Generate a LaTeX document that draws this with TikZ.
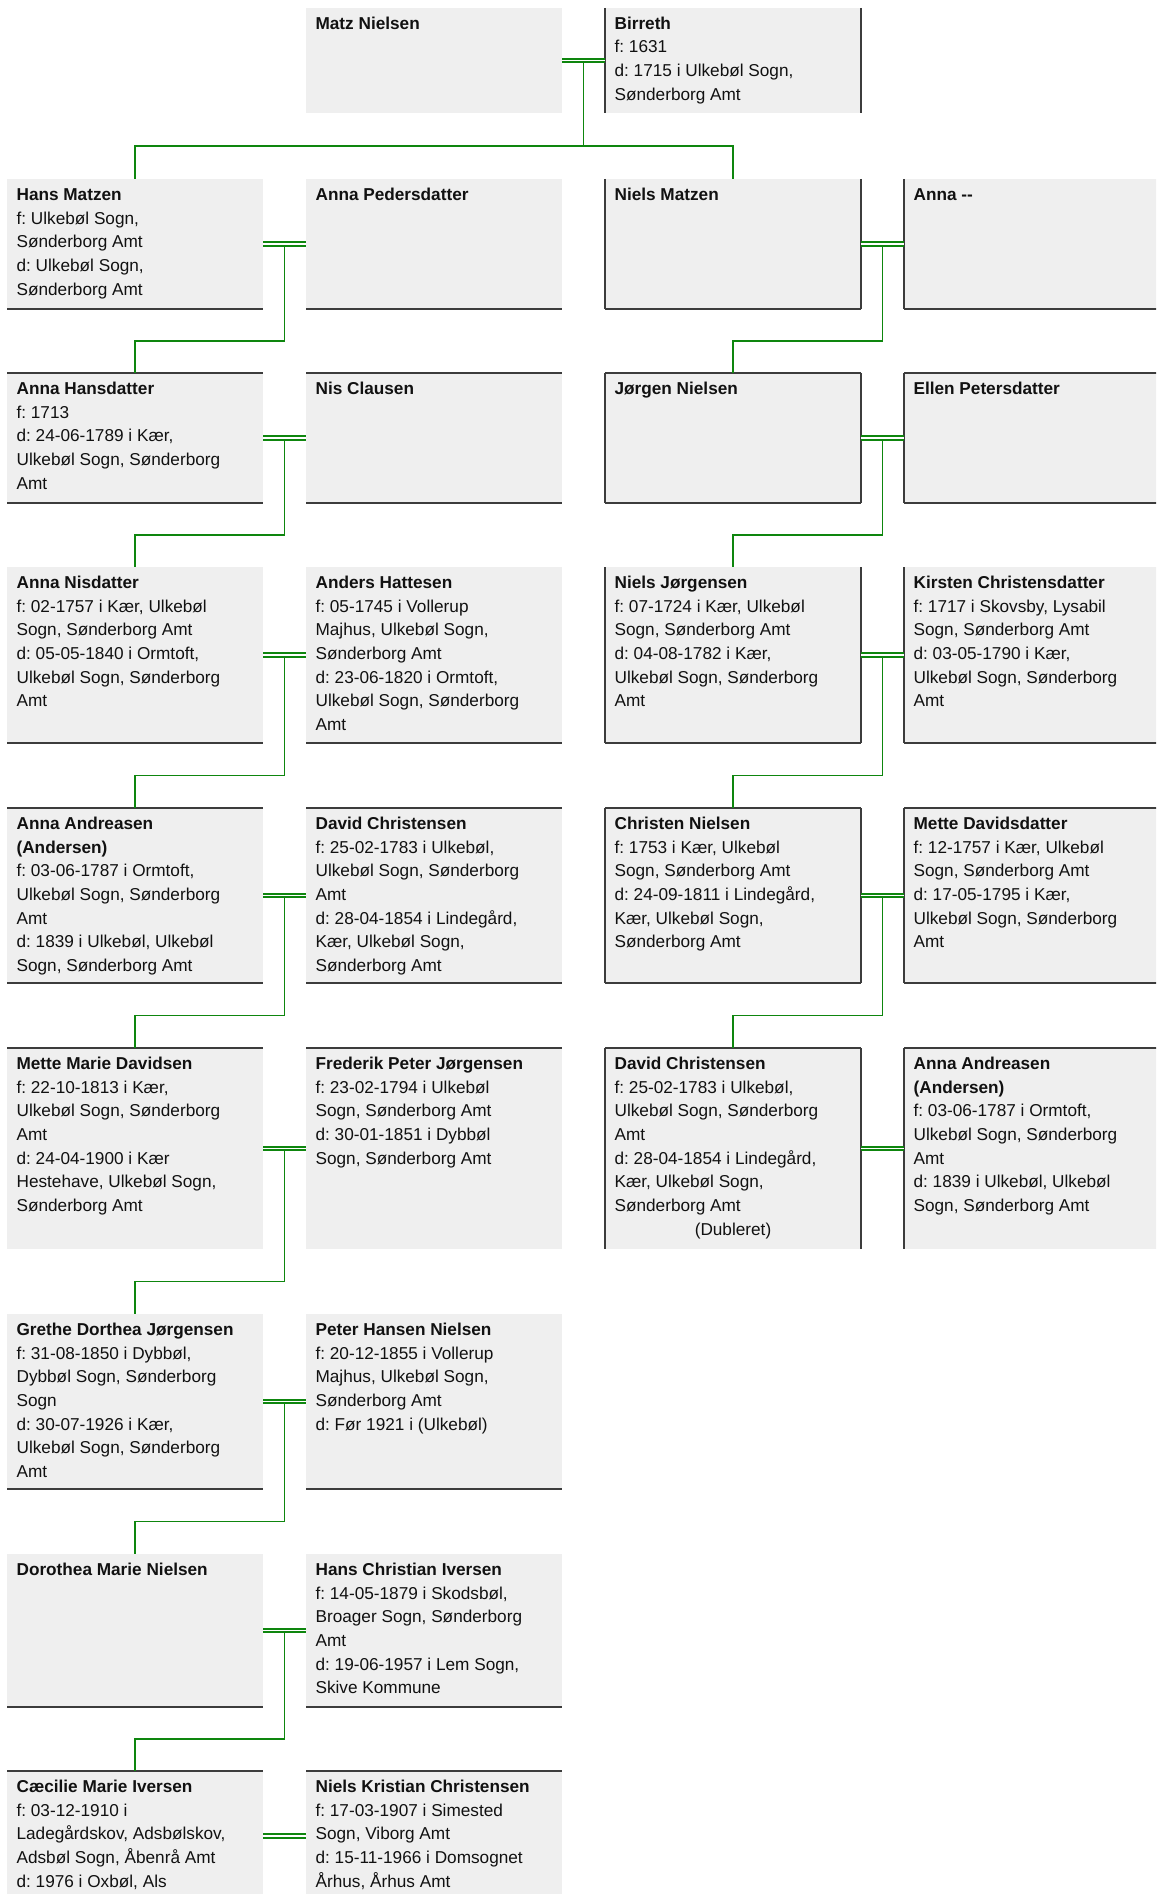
\documentclass[tikz,border=0pt]{standalone}
\usepackage{fontspec}
\setmainfont{Liberation Sans}
\usetikzlibrary{calc}
\definecolor{boxgray}{RGB}{239,239,239}
\definecolor{bordergray}{RGB}{60,60,60}
\definecolor{lgreen}{RGB}{14,134,14}
\definecolor{txt}{RGB}{17,17,17}
\newcommand\persfont{\fontsize{12.9pt}{17.8pt}\selectfont\frenchspacing}
\newcommand\fl{\rule{0pt}{15.75pt}}
\begin{document}
\begin{tikzpicture}[x=0.75pt,y=-0.75pt,
  pbox/.style={rectangle, fill=boxgray, draw=none, inner sep=0pt, outer sep=0pt, minimum width=192pt, anchor=north west},
  ptext/.style={anchor=north west, inner sep=0pt, align=left, font=\persfont, text=txt, xshift=7pt},
  bd/.style={draw=bordergray, line width=1.1pt},
  conn/.style={draw=lgreen, line width=1.4pt},
  couple/.style={draw=lgreen, line width=1.6pt, double=white, double distance=1.0pt},
]
\useasboundingbox (0,0) rectangle (1156,1894);
\clip (0,0) rectangle (1156,1894);

% ---------- boxes ----------
% row 0
\node[pbox, minimum height=78.75pt] (b0) at (306,8) {};
\node[pbox, minimum height=78.75pt] (c0) at (605,8) {};
% row 1
\node[pbox, minimum height=97.5pt] (a1) at (7,179) {};
\node[pbox, minimum height=97.5pt] (b1) at (306,179) {};
\node[pbox, minimum height=97.5pt] (c1) at (605,179) {};
\node[pbox, minimum height=97.5pt] (d1) at (904,179) {};
% row 2
\node[pbox, minimum height=97.5pt] (a2) at (7,373) {};
\node[pbox, minimum height=97.5pt] (b2) at (306,373) {};
\node[pbox, minimum height=97.5pt] (c2) at (605,373) {};
\node[pbox, minimum height=97.5pt] (d2) at (904,373) {};
% row 3
\node[pbox, minimum height=132pt] (a3) at (7,567) {};
\node[pbox, minimum height=132pt] (b3) at (306,567) {};
\node[pbox, minimum height=132pt] (c3) at (605,567) {};
\node[pbox, minimum height=132pt] (d3) at (904,567) {};
% row 4
\node[pbox, minimum height=131.25pt] (a4) at (7,808) {};
\node[pbox, minimum height=131.25pt] (b4) at (306,808) {};
\node[pbox, minimum height=131.25pt] (c4) at (605,808) {};
\node[pbox, minimum height=131.25pt] (d4) at (904,808) {};
% row 5
\node[pbox, minimum height=150.75pt] (a5) at (7,1048) {};
\node[pbox, minimum height=150.75pt] (b5) at (306,1048) {};
\node[pbox, minimum height=150.75pt] (c5) at (605,1048) {};
\node[pbox, minimum height=150.75pt] (d5) at (904,1048) {};
% row 6
\node[pbox, minimum height=131.25pt] (a6) at (7,1314) {};
\node[pbox, minimum height=131.25pt] (b6) at (306,1314) {};
% row 7
\node[pbox, minimum height=114.75pt] (a7) at (7,1554) {};
\node[pbox, minimum height=114.75pt] (b7) at (306,1554) {};
% row 8
\node[pbox, minimum height=97.5pt] (a8) at (7,1771) {};
\node[pbox, minimum height=97.5pt] (b8) at (306,1771) {};

% ---------- borders ----------
\foreach \n in {a1,b1,c1,d1,a2,b2,c2,d2,a3,b3,c3,d3,a4,b4,c4,d4,a6,b6,a7,b7}
  \draw[bd] (\n.south west) -- (\n.south east);
\foreach \n in {a2,b2,c2,d2,a4,b4,c4,d4,a5,b5,c5,d5,a8,b8}
  \draw[bd] (\n.north west) -- (\n.north east);
\foreach \n in {c0,c1,d1,c2,d2,c3,d3,c4,d4,c5,d5}
  \draw[bd] (\n.north west) -- (\n.south west);
\foreach \n in {c0,c1,c2,c3,c4,c5}
  \draw[bd] (\n.north east) -- (\n.south east);

% ---------- texts ----------
\node[ptext] (tb0) at (b0.north west) {\fl\textbf{Matz Nielsen}};
\node[ptext] (tc0) at (c0.north west) {\fl\textbf{Birreth}\\f: 1631\\d: 1715 i Ulkebøl Sogn,\\Sønderborg Amt};

\node[ptext] (ta1) at (a1.north west) {\fl\textbf{Hans Matzen}\\f: Ulkebøl Sogn,\\Sønderborg Amt\\d: Ulkebøl Sogn,\\Sønderborg Amt};
\node[ptext] (tb1) at (b1.north west) {\fl\textbf{Anna Pedersdatter}};
\node[ptext] (tc1) at (c1.north west) {\fl\textbf{Niels Matzen}};
\node[ptext] (td1) at (d1.north west) {\fl\textbf{Anna -{}-}};

\node[ptext] (ta2) at (a2.north west) {\fl\textbf{Anna Hansdatter}\\f: 1713\\d: 24-06-1789 i Kær,\\Ulkebøl Sogn, Sønderborg\\Amt};
\node[ptext] (tb2) at (b2.north west) {\fl\textbf{Nis Clausen}};
\node[ptext] (tc2) at (c2.north west) {\fl\textbf{Jørgen Nielsen}};
\node[ptext] (td2) at (d2.north west) {\fl\textbf{Ellen Petersdatter}};

\node[ptext] (ta3) at (a3.north west) {\fl\textbf{Anna Nisdatter}\\f: 02-1757 i Kær, Ulkebøl\\Sogn, Sønderborg Amt\\d: 05-05-1840 i Ormtoft,\\Ulkebøl Sogn, Sønderborg\\Amt};
\node[ptext] (tb3) at (b3.north west) {\fl\textbf{Anders Hattesen}\\f: 05-1745 i Vollerup\\Majhus, Ulkebøl Sogn,\\Sønderborg Amt\\d: 23-06-1820 i Ormtoft,\\Ulkebøl Sogn, Sønderborg\\Amt};
\node[ptext] (tc3) at (c3.north west) {\fl\textbf{Niels Jørgensen}\\f: 07-1724 i Kær, Ulkebøl\\Sogn, Sønderborg Amt\\d: 04-08-1782 i Kær,\\Ulkebøl Sogn, Sønderborg\\Amt};
\node[ptext] (td3) at (d3.north west) {\fl\textbf{Kirsten Christensdatter}\\f: 1717 i Skovsby, Lysabil\\Sogn, Sønderborg Amt\\d: 03-05-1790 i Kær,\\Ulkebøl Sogn, Sønderborg\\Amt};

\node[ptext] (ta4) at (a4.north west) {\fl\textbf{Anna Andreasen}\\\textbf{(Andersen)}\\f: 03-06-1787 i Ormtoft,\\Ulkebøl Sogn, Sønderborg\\Amt\\d: 1839 i Ulkebøl, Ulkebøl\\Sogn, Sønderborg Amt};
\node[ptext] (tb4) at (b4.north west) {\fl\textbf{David Christensen}\\f: 25-02-1783 i Ulkebøl,\\Ulkebøl Sogn, Sønderborg\\Amt\\d: 28-04-1854 i Lindegård,\\Kær, Ulkebøl Sogn,\\Sønderborg Amt};
\node[ptext] (tc4) at (c4.north west) {\fl\textbf{Christen Nielsen}\\f: 1753 i Kær, Ulkebøl\\Sogn, Sønderborg Amt\\d: 24-09-1811 i Lindegård,\\Kær, Ulkebøl Sogn,\\Sønderborg Amt};
\node[ptext] (td4) at (d4.north west) {\fl\textbf{Mette Davidsdatter}\\f: 12-1757 i Kær, Ulkebøl\\Sogn, Sønderborg Amt\\d: 17-05-1795 i Kær,\\Ulkebøl Sogn, Sønderborg\\Amt};

\node[ptext] (ta5) at (a5.north west) {\fl\textbf{Mette Marie Davidsen}\\f: 22-10-1813 i Kær,\\Ulkebøl Sogn, Sønderborg\\Amt\\d: 24-04-1900 i Kær\\Hestehave, Ulkebøl Sogn,\\Sønderborg Amt};
\node[ptext] (tb5) at (b5.north west) {\fl\textbf{Frederik Peter Jørgensen}\\f: 23-02-1794 i Ulkebøl\\Sogn, Sønderborg Amt\\d: 30-01-1851 i Dybbøl\\Sogn, Sønderborg Amt};
\node[ptext] (tc5) at (c5.north west) {\fl\textbf{David Christensen}\\f: 25-02-1783 i Ulkebøl,\\Ulkebøl Sogn, Sønderborg\\Amt\\d: 28-04-1854 i Lindegård,\\Kær, Ulkebøl Sogn,\\Sønderborg Amt};
\node[font=\persfont, text=txt, anchor=base, inner sep=0pt] (dub) at (733,1235) {(Dubleret)};
\node[ptext] (td5) at (d5.north west) {\fl\textbf{Anna Andreasen}\\\textbf{(Andersen)}\\f: 03-06-1787 i Ormtoft,\\Ulkebøl Sogn, Sønderborg\\Amt\\d: 1839 i Ulkebøl, Ulkebøl\\Sogn, Sønderborg Amt};

\node[ptext] (ta6) at (a6.north west) {\fl\textbf{Grethe Dorthea Jørgensen}\\f: 31-08-1850 i Dybbøl,\\Dybbøl Sogn, Sønderborg\\Sogn\\d: 30-07-1926 i Kær,\\Ulkebøl Sogn, Sønderborg\\Amt};
\node[ptext] (tb6) at (b6.north west) {\fl\textbf{Peter Hansen Nielsen}\\f: 20-12-1855 i Vollerup\\Majhus, Ulkebøl Sogn,\\Sønderborg Amt\\d: Før 1921 i (Ulkebøl)};

\node[ptext] (ta7) at (a7.north west) {\fl\textbf{Dorothea Marie Nielsen}};
\node[ptext] (tb7) at (b7.north west) {\fl\textbf{Hans Christian Iversen}\\f: 14-05-1879 i Skodsbøl,\\Broager Sogn, Sønderborg\\Amt\\d: 19-06-1957 i Lem Sogn,\\Skive Kommune};

\node[ptext] (ta8) at (a8.north west) {\fl\textbf{Cæcilie Marie Iversen}\\f: 03-12-1910 i\\Ladegårdskov, Adsbølskov,\\Adsbøl Sogn, Åbenrå Amt\\d: 1976 i Oxbøl, Als};
\node[ptext] (tb8) at (b8.north west) {\fl\textbf{Niels Kristian Christensen}\\f: 17-03-1907 i Simested\\Sogn, Viborg Amt\\d: 15-11-1966 i Domsognet\\Århus, Århus Amt};

% ---------- connectors ----------
\coordinate (m0) at ($(b0.east)!0.5!(c0.west)$);
\coordinate (h0) at ($(c0.south)!0.5!(c1.north)$);
\draw[conn] (m0) -- (m0 |- h0);
\draw[conn] (a1.north) -- (a1.north |- h0) -- (c1.north |- h0) -- (c1.north);

\foreach \k [evaluate=\k as \j using int(\k+1)] in {1,...,7} {
  \coordinate (mL\k) at ($(a\k.east)!0.5!(b\k.west)$);
  \coordinate (hL\k) at ($(a\k.south)!0.5!(a\j.north)$);
  \draw[conn] (mL\k) -- (mL\k |- hL\k) -| (a\j.north);
}
\foreach \k [evaluate=\k as \j using int(\k+1)] in {1,...,4} {
  \coordinate (mR\k) at ($(c\k.east)!0.5!(d\k.west)$);
  \coordinate (hR\k) at ($(c\k.south)!0.5!(c\j.north)$);
  \draw[conn] (mR\k) -- (mR\k |- hR\k) -| (c\j.north);
}

% ---------- couple lines ----------
\draw[couple] (b0.east) -- (c0.west);
\foreach \k in {1,...,8} \draw[couple] (a\k.east) -- (b\k.west);
\foreach \k in {1,...,5} \draw[couple] (c\k.east) -- (d\k.west);
\end{tikzpicture}
\end{document}
